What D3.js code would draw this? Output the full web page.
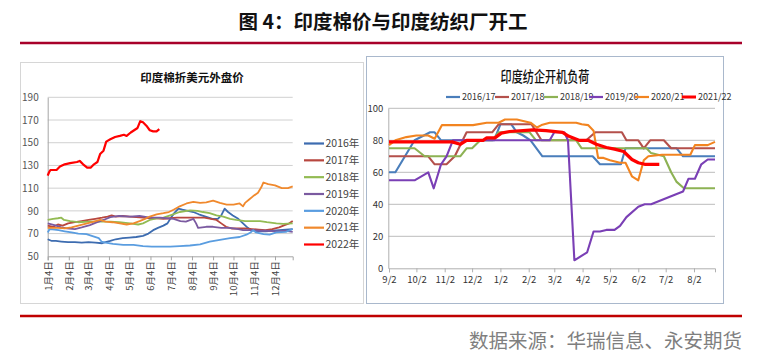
<!DOCTYPE html>
<html><head><meta charset="utf-8">
<script src="https://cdn.jsdelivr.net/npm/d3@7"></script>
<style>
html,body{margin:0;padding:0;background:#fff;}
svg{display:block;}
text{font-family:"Noto Sans CJK SC","Liberation Sans",sans-serif;}
</style></head>
<body>
<svg id="c" width="759" height="364"></svg>
<script>
// ---------- DATA ----------
const mainTitle = "图 4：印度棉价与印度纺织厂开工";
const sourceText = "数据来源：华瑞信息、永安期货";

// Left chart: India cotton price (USD), x = days since Jan 4
const leftTitle = "印度棉折美元外盘价";
const leftYTicks = [50, 70, 90, 110, 130, 150, 170, 190];
const leftXTickLabels = ["1月4日","2月4日","3月4日","4月4日","5月4日","6月4日","7月4日","8月4日","9月4日","10月4日","11月4日","12月4日"];
const leftSeriesNames = ["2016年","2017年","2018年","2019年","2020年","2021年","2022年"];
const leftColors = ["#3d6cb0","#b8473f","#93bb53","#7b5aa0","#5a9de0","#f0892d","#ff0000"];

const p2016 = [[0,65],[6,63.5],[12,63.5],[20,63],[30,62.5],[40,62.5],[50,62],[60,62.5],[70,62],[80,61.5],[85,62.5],[92,63.5],[100,65],[110,66],[120,66.5],[130,67],[140,68],[148,70],[155,73],[162,75],[170,77],[176,79],[181,84],[186,88],[192,92],[198,91],[206,90],[214,89],[222,87],[232,85],[242,83],[250,83],[255,86],[260,92],[265,89],[272,86],[280,83],[287,79],[294,75],[300,73],[310,72],[320,72],[330,72.5],[340,73],[350,73.5],[360,74]];
const p2017 = [[0,77],[8,76],[15,78],[22,77],[30,79],[40,80],[50,81],[60,82],[70,83],[80,84],[88,85],[94,86],[100,85],[110,85.5],[120,85],[130,84.5],[140,84],[150,83.5],[160,83.5],[170,83],[180,83.5],[190,84],[200,84],[210,84],[220,84],[230,84],[240,83],[248,82],[255,79],[262,76],[270,74.5],[280,74.5],[290,74.5],[300,74],[310,73.5],[320,73],[330,74],[340,75.5],[348,77.5],[355,79],[360,81]];
const p2018 = [[0,82],[8,83],[15,83.5],[20,84],[24,82],[33,81],[45,80],[60,80.5],[75,80.5],[92,80.5],[105,80],[121,79],[133,78],[140,79],[150,82],[160,83.5],[170,84],[180,86],[194,89],[209,90.5],[220,90],[228,89],[238,88],[248,86],[258,85],[268,83],[277,82],[290,81],[302,81],[312,81],[322,80],[336,79],[346,78.5],[360,79]];
const p2019 = [[0,79],[10,77.5],[20,75.5],[28,74.5],[40,74],[50,75.5],[62,77.5],[70,79.5],[82,82],[92,84.5],[105,85.5],[121,85],[135,85.5],[150,84],[165,84],[175,83.5],[185,83],[195,81],[203,80.5],[210,82],[214,83],[218,79],[221,75],[233,76],[243,76],[255,75],[268,75],[280,74],[287,73],[300,73],[310,72.5],[320,72.5],[336,72],[350,72.5],[360,71.5]];
const p2020 = [[0,71],[3,74],[10,73.5],[16,73],[25,72],[35,71],[45,70],[57,69.5],[67,67.5],[75,66],[79,63],[85,62],[96,61],[111,60],[126,60],[140,59],[153,58.5],[165,58.5],[180,58.5],[194,59],[209,59.5],[224,60.5],[238,63],[253,64.5],[268,66],[282,67],[292,69],[298,71],[302,73],[306,71],[317,69.5],[326,69],[336,71],[350,71.5],[360,74]];
const p2021 = [[0,75],[15,75],[25,74.5],[35,75.5],[45,77],[55,78.5],[65,80],[77,82],[85,80.5],[95,80],[106,79],[116,78],[126,79],[135,81],[143,83],[150,85],[160,87],[170,88],[178,89],[185,91],[194,94],[204,96.5],[214,98],[224,97],[233,97.5],[243,99],[253,97],[263,95.5],[273,95.5],[282,96.5],[287,94],[290,97],[296,100],[302,103],[309,106],[314,111],[317,115],[324,113.5],[334,112.5],[344,110],[353,110],[360,111.5]];
const p2022 = [[0,121],[2,124],[4,126],[13,126],[18,129],[25,131],[33,132],[43,133],[47,134],[52,131],[58,128],[63,128],[68,131],[73,133],[77,140],[82,143],[86,151],[92,153],[99,155],[106,156],[112,157],[116,156],[122,159],[127,161],[132,163],[136,169],[140,168],[145,165],[150,161],[155,160],[160,160],[164,162]];
const leftSeries = [p2016, p2017, p2018, p2019, p2020, p2021, p2022];

// Right chart: India spinning mill operating rate (%)
const rightTitle = "印度纺企开机负荷";
const rightYTicks = [0, 20, 40, 60, 80, 100];
const rightXTickLabels = ["9/2","10/2","11/2","12/2","1/2","2/2","3/2","4/2","5/2","6/2","7/2","8/2"];
const rightSeriesNames = ["2016/17","2017/18","2018/19","2019/20","2020/21","2021/22"];
const rightColors = ["#4a7ebb","#b4504b","#8db254","#7a3fb5","#f28420","#ff0000"];

const r1617 = [["9/2",60],["9/9",60],["9/30",80],["10/17",85],["10/22",85],["10/29",80],["12/26",80],["1/2",90],["1/14",90],["1/20",85],["1/27",83],["2/4",80],["2/17",70],["4/13",70],["4/21",65],["5/14",65],["5/19",75],["7/14",75],["7/21",70],["8/25",70]];
const r1718 = [["9/2",70],["10/15",70],["10/22",65],["11/4",65],["11/13",70],["11/26",85],["12/24",85],["12/31",90],["2/5",90],["2/16",80],["4/6",80],["4/16",85],["5/15",85],["5/20",80],["6/2",80],["6/8",75],["6/15",80],["6/30",80],["7/8",75],["8/25",75]];
const r1819 = [["9/2",75],["9/30",75],["10/11",70],["11/19",70],["11/26",75],["12/2",75],["12/11",80],["12/24",80],["12/31",85],["2/3",85],["2/10",80],["3/26",80],["4/1",75],["6/11",75],["6/16",72],["6/30",70],["7/8",60],["7/14",54],["7/22",50],["8/25",50]];
const r1920 = [["9/2",55],["9/30",55],["10/15",60],["10/21",50],["10/29",65],["11/4",70],["11/11",80],["2/25",80],["3/2",85],["3/13",85],["3/17",80],["3/24",5],["4/7",10],["4/14",23],["4/21",23],["4/28",24],["5/7",24],["5/13",26.5],["5/20",32],["6/2",38.5],["6/9",40],["6/16",40],["7/12",46],["7/21",48],["7/27",56],["8/3",56],["8/10",65],["8/17",68],["8/25",68]];
const r2021 = [["9/2",77],["9/9",80],["9/21",82],["10/2",83],["10/15",83],["10/22",81],["10/30",89.5],["12/3",89.5],["12/18",91],["12/31",91],["1/7",93],["1/20",93],["2/4",91],["2/11",88],["2/16",89.5],["2/25",91],["3/26",91],["4/1",90],["4/8",89.5],["4/14",86],["4/19",69],["4/25",69],["5/2",67.5],["5/13",66],["5/19",66],["5/26",57.5],["6/2",55],["6/8",67.5],["6/13",70],["6/28",71],["7/29",71],["8/3",77],["8/17",77],["8/25",79]];
const r2122 = [["9/2",79],["11/10",79],["11/19",77.5],["11/26",80],["12/14",80],["12/18",81.5],["12/27",81.5],["1/3",84.5],["1/12",85.5],["2/7",86.5],["2/21",86],["3/11",85],["3/18",82.5],["3/29",80],["4/8",80],["4/17",77.5],["4/28",75.5],["5/7",74.5],["5/17",73],["5/26",68],["6/2",66],["6/9",65],["6/25",65]];
const rightSeries = [r1617, r1718, r1819, r1920, r2021, r2122];

// ---------- DRAW ----------
const svg = d3.select("#c");
const W = 759, H = 364;
svg.append("rect").attr("width", W).attr("height", H).attr("fill", "#fff");

// header
svg.append("text").attr("x", 383).attr("y", 29).attr("text-anchor", "middle")
  .attr("font-size", 19.5).attr("font-weight", 700).attr("fill", "#111").text(mainTitle);
svg.append("line").attr("x1", 20).attr("x2", 742).attr("y1", 43).attr("y2", 43)
  .attr("stroke", "#a8002a").attr("stroke-width", 2.5);

// footer
svg.append("line").attr("x1", 20).attr("x2", 742).attr("y1", 316).attr("y2", 316)
  .attr("stroke", "#c00000").attr("stroke-width", 2.5);
svg.append("text").attr("x", 742).attr("y", 348).attr("text-anchor", "end")
  .attr("font-size", 19.5).attr("fill", "#7f7f7f").text(sourceText);

// ===== Left chart =====
const L = svg.append("g");
L.append("rect").attr("x", 20.5).attr("y", 62.5).attr("width", 343).attr("height", 241)
  .attr("fill", "#fff").attr("stroke", "#d6d6d6");
L.append("text").attr("x", 192).attr("y", 81.5).attr("text-anchor", "middle")
  .attr("font-size", 11.5).attr("font-weight", 700).attr("fill", "#111").text(leftTitle);

const lStart = new Date(2021, 0, 4);
const lx = d3.scaleTime().domain([lStart, new Date(2021, 11, 30)]).range([47.7, 292.7]);
const ly = d3.scaleLinear().domain([50, 190]).range([256.3, 97.3]);

L.selectAll(".lg").data(leftYTicks.filter(v => v > 50)).join("line")
  .attr("x1", 47.7).attr("x2", 292.7).attr("y1", d => ly(d)).attr("y2", d => ly(d))
  .attr("stroke", "#d0d0d0").attr("stroke-width", 1);
const lyAxis = L.append("g").attr("transform", "translate(47.7,0)")
  .call(d3.axisLeft(ly).tickValues(leftYTicks).tickSize(0).tickPadding(9));
lyAxis.select(".domain").attr("stroke", "#a6a6a6");
lyAxis.selectAll("text").attr("font-family", "Liberation Sans, Arial, sans-serif").attr("font-size", 10).attr("fill", "#555");

const lTickDates = leftXTickLabels.map((s, i) => new Date(2021, i, 4));
const lxAxis = L.append("g").attr("transform", "translate(0,256.3)")
  .call(d3.axisBottom(lx).tickValues(lTickDates).tickSize(4).tickFormat((d, i) => leftXTickLabels[i]));
lxAxis.select(".domain").attr("stroke", "#a6a6a6");
lxAxis.selectAll("line").attr("stroke", "#a6a6a6");
lxAxis.selectAll("text").attr("font-size", 9.5).attr("fill", "#444")
  .attr("text-anchor", "end").attr("transform", "rotate(-90)")
  .attr("x", -5).attr("y", 0).attr("dy", "0.35em");

const lLine = d3.line().x(d => lx(d3.timeDay.offset(lStart, d[0]))).y(d => ly(d[1]));
leftSeries.forEach((s, i) => {
  L.append("path").attr("d", lLine(s)).attr("fill", "none").attr("stroke", leftColors[i])
    .attr("stroke-width", i === 6 ? 2.2 : 1.8).attr("stroke-linejoin", "round");
});

const legY = d3.scalePoint().domain(leftSeriesNames).range([143.5, 244.5]);
leftSeriesNames.forEach((n, i) => {
  L.append("line").attr("x1", 304).attr("x2", 324).attr("y1", legY(n)).attr("y2", legY(n))
    .attr("stroke", leftColors[i]).attr("stroke-width", 2.2);
  L.append("text").attr("x", 325.5).attr("y", legY(n)).attr("dy", "0.35em")
    .attr("font-size", 10.5).attr("fill", "#444").text(n);
});

// ===== Right chart =====
const R = svg.append("g");
R.append("rect").attr("x", 366.5).attr("y", 56.5).attr("width", 357).attr("height", 247)
  .attr("fill", "#fff").attr("stroke", "#a9b8cc");
R.append("text").attr("transform", "translate(545,82) scale(0.74,1)").attr("text-anchor", "middle")
  .attr("font-size", 15).attr("font-weight", 500).attr("fill", "#111").text(rightTitle);

const parseR = s => { const [m, d] = s.split("/").map(Number); return new Date(m >= 9 ? 2020 : 2021, m - 1, d); };
const rx = d3.scaleTime().domain([parseR("9/2"), parseR("8/25")]).range([389, 715]);
const ry = d3.scaleLinear().domain([0, 100]).range([268.3, 108.3]);
const narrow = "'Liberation Sans Narrow','Arial Narrow',sans-serif";

R.selectAll(".rg").data(rightYTicks.filter(v => v > 0)).join("line")
  .attr("x1", 388.3).attr("x2", 715).attr("y1", d => ry(d)).attr("y2", d => ry(d))
  .attr("stroke", "#bcbcbc").attr("stroke-width", 1);
const ryAxis = R.append("g").attr("transform", "translate(388.3,0)")
  .call(d3.axisLeft(ry).tickValues(rightYTicks).tickSize(0).tickPadding(5));
ryAxis.select(".domain").attr("stroke", "#b0b0b0");
ryAxis.selectAll("text").attr("font-family", narrow).attr("font-size", 9.5).attr("fill", "#333");
const rTickDates = rightXTickLabels.map(parseR);
const rxAxis = R.append("g").attr("transform", "translate(0,268.3)")
  .call(d3.axisBottom(rx).tickValues(rTickDates).tickSize(4).tickPadding(4).tickFormat((d, i) => rightXTickLabels[i]));
rxAxis.select(".domain").attr("stroke", "#b0b0b0");
rxAxis.selectAll("line").attr("stroke", "#b0b0b0");
rxAxis.selectAll("text").attr("font-family", narrow).attr("font-size", 9.5).attr("fill", "#333");

const rLine = d3.line().x(d => rx(parseR(d[0]))).y(d => ry(d[1]));
rightSeries.forEach((s, i) => {
  R.append("path").attr("d", rLine(s)).attr("fill", "none").attr("stroke", rightColors[i])
    .attr("stroke-width", i === 5 ? 3.2 : 2.1).attr("stroke-linejoin", "round");
});

const rLegX = [446, 495, 544, 589, 635, 682];
rightSeriesNames.forEach((n, i) => {
  R.append("line").attr("x1", rLegX[i]).attr("x2", rLegX[i] + 14).attr("y1", 97).attr("y2", 97)
    .attr("stroke", rightColors[i]).attr("stroke-width", i === 5 ? 3 : 2.2);
  R.append("text").attr("x", rLegX[i] + 16).attr("y", 97).attr("dy", "0.35em")
    .attr("font-family", narrow).attr("font-size", 9).attr("fill", "#333").text(n);
});
</script>
</body></html>
